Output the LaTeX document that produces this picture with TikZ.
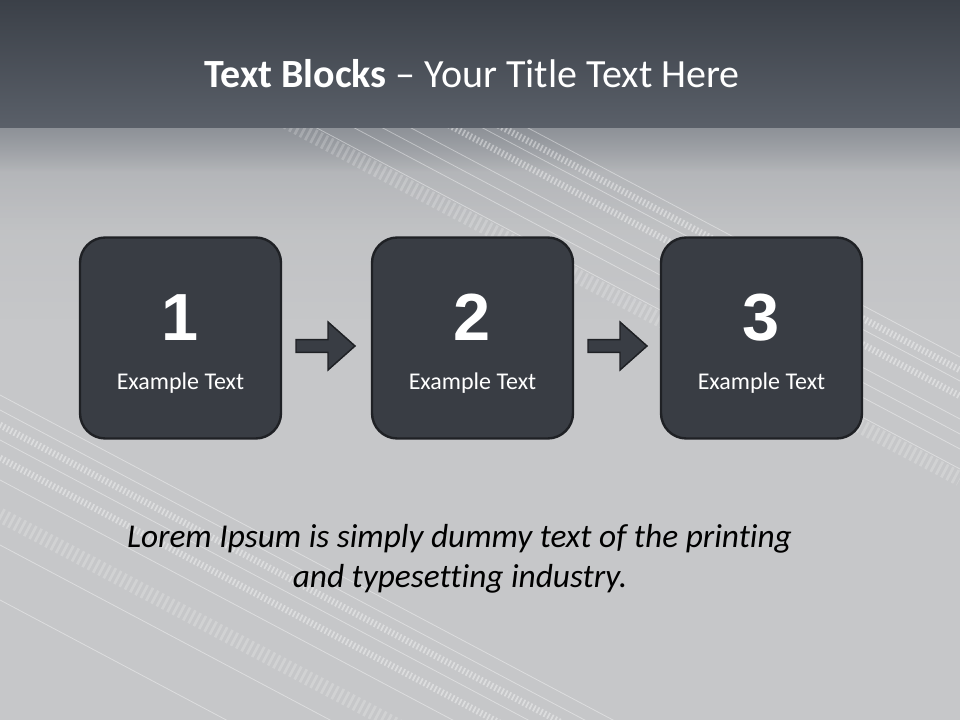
\documentclass[tikz,border=0pt]{standalone}
\usepackage{fontspec}
\usetikzlibrary{fadings}
\setmainfont{Carlito}[RawFeature={-liga}]
\newfontfamily\numfont{Liberation Sans}
\definecolor{hdrtop}{HTML}{3B4048}
\definecolor{hdrbot}{HTML}{5A6069}
\definecolor{bodytop}{HTML}{8E9298}
\definecolor{bodybot}{HTML}{C6C7C9}
\definecolor{boxfill}{HTML}{393D44}
\definecolor{boxline}{HTML}{1F2125}
\tikzfading[name=fadedown, top color=transparent!0, bottom color=transparent!100]
\begin{document}
\begin{tikzpicture}[x=0.75pt,y=-0.75pt,
  stepbox/.style={draw=boxline, fill=boxfill, line width=1.8pt, rounded corners=19pt,
    minimum width=150.75pt, minimum height=150.75pt, inner sep=0pt},
  numtext/.style={text=white, font=\numfont\bfseries\fontsize{50}{60}\selectfont, anchor=base, inner sep=0pt},
  labeltext/.style={text=white, font=\fontsize{18}{22}\selectfont, anchor=base, inner sep=0pt},
  titletext/.style={text=white, font=\fontsize{30}{36}\selectfont, anchor=base, inner sep=0pt},
  bodytext/.style={text=black, font=\itshape\fontsize{25}{30}\selectfont, anchor=base, inner sep=0pt},
  blockarrow/.style={draw=boxline, fill=boxfill, line width=1.1pt, line join=miter},
  thinstripe/.style={draw=white, opacity=0.4, line width=0.6pt},
  dashstripe/.style={draw=white, opacity=0.4, line width=5pt, dash pattern=on 1.3pt off 1.7pt},
  widestripe/.style={draw=white, opacity=0.2, line width=11pt, dash pattern=on 2pt off 2.5pt},
  glow/.style={fill=bodytop, path fading=fadedown}
]
\useasboundingbox (0,0) rectangle (960,720);
% body background
\fill[bodybot] (0,0) rectangle (960,720);
\fill[glow, fill opacity=0.18] (0,128) rectangle (960,320);
\fill[glow, fill opacity=0.35] (0,128) rectangle (960,230);
\fill[glow] (0,128) rectangle (960,172);
% diagonal texture stripes
\begin{scope}
  \clip (0,128) rectangle (960,720);
  \foreach \y in {395,410,440,480,545,600,-60,-75,-90,-128,-152,-40}
    \draw[thinstripe] (0,\y) -- (960,\y+509);
  \foreach \y in {425,458,-113,-139}
    \draw[dashstripe] (0,\y) -- (960,\y+509);
  \foreach \y in {515,-30}
    \draw[widestripe] (0,\y) -- (960,\y+509);
\end{scope}
% header band
\shade[top color=hdrtop, bottom color=hdrbot] (0,0) rectangle (960,128);
\node[titletext] (title) at (472,88) {\textbf{Text Blocks} – Your Title Text Here};
% blocks
\node[stepbox] (b1) at (180.5,338) {};
\node[stepbox] (b2) at (472.5,338) {};
\node[stepbox] (b3) at (761.5,338) {};
\node[numtext] (n1) at (180.5,340) {1};
\node[numtext] (n2) at (472.5,340) {2};
\node[numtext] (n3) at (761.5,340) {3};
\node[labeltext] (l1) at (180.5,389) {Example Text};
\node[labeltext] (l2) at (472.5,389) {Example Text};
\node[labeltext] (l3) at (761.5,389) {Example Text};
% block arrows
\coordinate (a1) at (296,346);
\coordinate (a2) at (588,346);
\foreach \a in {a1,a2}{
  \begin{scope}[shift={(\a)}]
    \draw[blockarrow] (0,-6.3) -- (32,-6.3) -- (32,-24) -- (59,0) -- (32,24) -- (32,6.3) -- (0,6.3) -- cycle;
  \end{scope}
}
% body text
\node[bodytext] (t1) at (459.5,547) {Lorem Ipsum is simply dummy text of the printing};
\node[bodytext] (t2) at (460,587) {and typesetting industry.};
\end{tikzpicture}
\end{document}
